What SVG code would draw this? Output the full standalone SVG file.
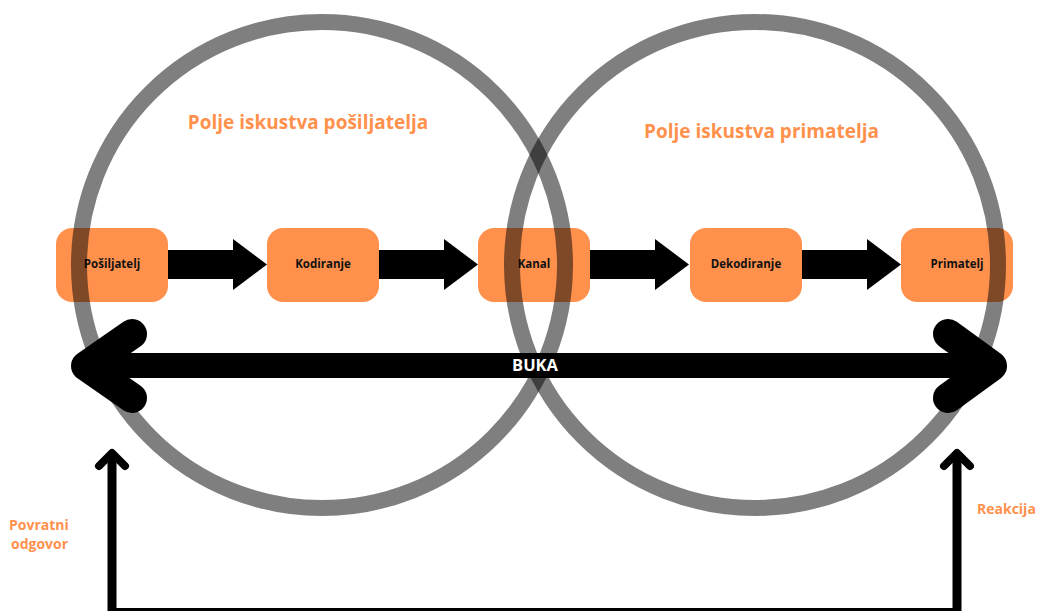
<svg xmlns="http://www.w3.org/2000/svg" width="1041" height="611" viewBox="0 0 1041 611">
<defs>
<style>
.node{fill:#FF914D}
.nlabel{font-family:"Open Sans","Liberation Sans",sans-serif;font-weight:700;font-size:11.5px;fill:#111;text-anchor:middle}
.title{font-family:"Open Sans","Liberation Sans",sans-serif;font-weight:700;font-size:19px;fill:#FF914D;text-anchor:middle}
.side{font-family:"Open Sans","Liberation Sans",sans-serif;font-weight:700;font-size:14px;fill:#FF914D}
.flow{fill:#000}
.ring{fill:none;stroke:#000;stroke-opacity:0.5;stroke-width:16}
.chev{fill:none;stroke:#000;stroke-linecap:round;stroke-linejoin:round}
</style>
<path id="blk" d="M0,-14.5 H65 V-25.5 L99,0 L65,25.5 V14.5 H0 Z"/>
</defs>
<rect width="1041" height="611" fill="#fff"/>

<g id="connectors">
  <use href="#blk" class="flow" x="168" y="264.5"/>
  <use href="#blk" class="flow" x="379" y="264.5"/>
  <use href="#blk" class="flow" x="590" y="264.5"/>
  <use href="#blk" class="flow" x="802" y="264.5"/>
  <g id="buka">
    <rect x="86" y="353" width="906" height="25" fill="#000"/>
    <polyline class="chev" stroke-width="30" points="132,334 86,366 132,398"/>
    <polyline class="chev" stroke-width="30" points="948,334 992,366 948,398"/>
  </g>
  <g id="feedback">
    <line x1="112" y1="455" x2="112" y2="611" stroke="#000" stroke-width="9"/>
    <line x1="957" y1="455" x2="957" y2="611" stroke="#000" stroke-width="9"/>
    <line x1="112" y1="609.5" x2="957" y2="609.5" stroke="#000" stroke-width="3"/>
    <polyline class="chev" stroke-width="8" points="99,466 112,453 125,466"/>
    <polyline class="chev" stroke-width="8" points="944,466 957,453 970,466"/>
  </g>
</g>

<g id="n-posiljatelj"><rect class="node" x="56" y="228" width="112" height="74" rx="16"/><text class="nlabel" x="112" y="268">Pošiljatelj</text></g>
<g id="n-kodiranje"><rect class="node" x="267" y="228" width="112" height="74" rx="16"/><text class="nlabel" x="323" y="268">Kodiranje</text></g>
<g id="n-kanal"><rect class="node" x="478" y="228" width="112" height="74" rx="16"/><text class="nlabel" x="534" y="268">Kanal</text></g>
<g id="n-dekodiranje"><rect class="node" x="690" y="228" width="112" height="74" rx="16"/><text class="nlabel" x="746" y="268">Dekodiranje</text></g>
<g id="n-primatelj"><rect class="node" x="901" y="228" width="112" height="74" rx="16"/><text class="nlabel" x="957" y="268">Primatelj</text></g>

<g id="fields">
  <circle class="ring" cx="322" cy="265" r="243"/>
  <circle class="ring" cx="755" cy="265" r="243"/>
  <text class="title" x="308" y="129">Polje iskustva pošiljatelja</text>
  <text class="title" x="761.5" y="138">Polje iskustva primatelja</text>
</g>

<g id="labels">
  <text x="535" y="370.5" font-family="'Open Sans','Liberation Sans',sans-serif" font-weight="700" font-size="16.5" fill="#fff" text-anchor="middle">BUKA</text>
  <text class="side" x="9" y="530">Povratni</text>
  <text class="side" x="11" y="549">odgovor</text>
  <text class="side" x="977" y="514">Reakcija</text>
</g>
</svg>
